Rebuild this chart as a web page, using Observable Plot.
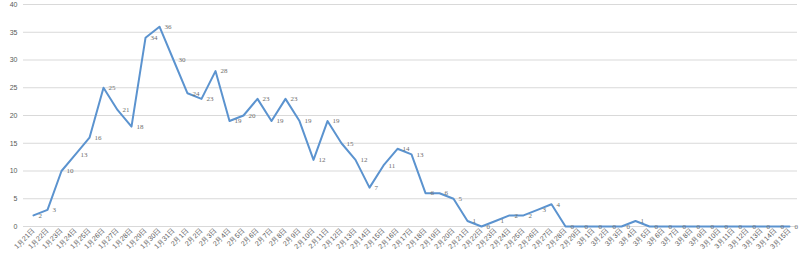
<!DOCTYPE html>
<html>
<head>
<meta charset="utf-8">
<script src="https://cdn.jsdelivr.net/npm/d3@7"></script>
<script src="https://cdn.jsdelivr.net/npm/@observablehq/plot@0.6"></script>
<style>
  html, body { margin: 0; padding: 0; background: #fff; }
  #chart svg { display: block; }
</style>
</head>
<body>
<div id="chart"></div>
<script>
const dates = [
  "1月21日","1月22日","1月23日","1月24日","1月25日","1月26日","1月27日","1月28日","1月29日","1月30日","1月31日",
  "2月1日","2月2日","2月3日","2月4日","2月5日","2月6日","2月7日","2月8日","2月9日","2月10日",
  "2月11日","2月12日","2月13日","2月14日","2月15日","2月16日","2月17日","2月18日","2月19日","2月20日",
  "2月21日","2月22日","2月23日","2月24日","2月25日","2月26日","2月27日","2月28日","2月29日",
  "3月1日","3月2日","3月3日","3月4日","3月5日","3月6日","3月7日","3月8日","3月9日","3月10日",
  "3月11日","3月12日","3月13日","3月14日","3月15日"
];
const values = [
  2, 3, 10, 13, 16, 25, 21, 18, 34, 36, 30,
  24, 23, 28, 19, 20, 23, 19, 23, 19, 12,
  19, 15, 12, 7, 11, 14, 13, 6, 6, 5,
  1, 0, 1, 2, 2, 3, 4, 0, 0,
  0, 0, 0, 1, 0, 0, 0, 0, 0, 0,
  0, 0, 0, 0, 0
];
const yTicks = [0, 5, 10, 15, 20, 25, 30, 35, 40];

const data = dates.map((d, i) => ({date: d, value: values[i]}));

const chart = Plot.plot({
  width: 800,
  height: 257,
  marginTop: 4,
  marginBottom: 31,
  marginLeft: 23,
  marginRight: 3,
  style: {fontFamily: "'Liberation Sans', Arial, sans-serif", background: "#fff"},
  x: {type: "point", domain: dates, padding: 0, insetLeft: 7, insetRight: 5, label: null},
  y: {domain: [0, 40], label: null},
  marks: [
    Plot.gridY(yTicks, {stroke: "#d9d9d9", strokeOpacity: 1, strokeWidth: 1}),
    Plot.axisY(yTicks, {tickSize: 0, tickPadding: 6, fontSize: 7, fill: "#595959", label: null}),
    Plot.axisX({tickSize: 0, tickRotate: -45, tickPadding: 3, fontSize: 7, fill: "#595959", textAnchor: "end", label: null}),
    Plot.line(data, {x: "date", y: "value", stroke: "#5b93cf", strokeWidth: 2}),
    Plot.text(data, {x: "date", y: "value", text: d => String(d.value), dx: 5, textAnchor: "start",
      fontSize: 7, fill: "#6e6e6e", fontFamily: "'Liberation Serif', 'Times New Roman', serif"})
  ]
});
document.getElementById("chart").appendChild(chart);
</script>
</body>
</html>
